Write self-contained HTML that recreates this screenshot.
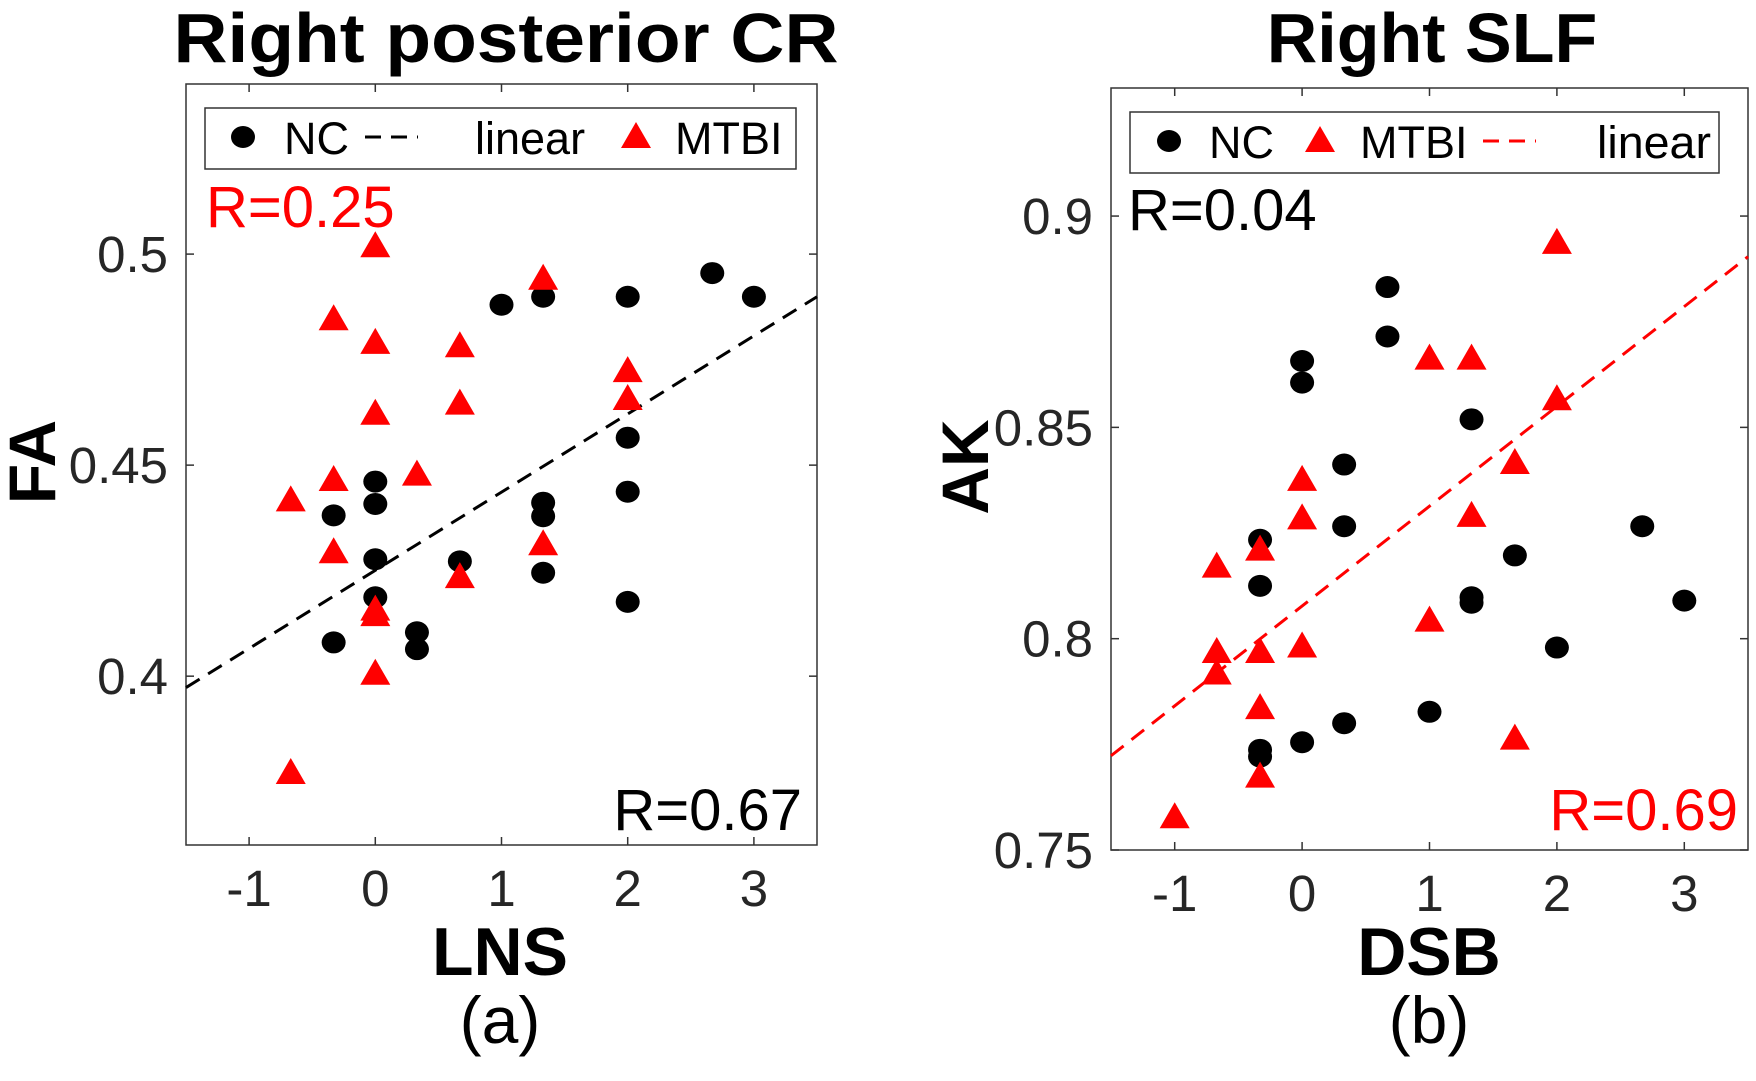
<!DOCTYPE html>
<html><head><meta charset="utf-8"><style>
html,body{margin:0;padding:0;background:#fff;}
svg{display:block;font-family:"Liberation Sans",Arial,sans-serif;}
</style></head><body>
<svg id="chart" width="1756" height="1081" viewBox="0 0 1756 1081" xmlns="http://www.w3.org/2000/svg">
<g id="root"></g>
<text x="506" y="62" font-size="70" font-weight="bold" text-anchor="middle" textLength="665" lengthAdjust="spacingAndGlyphs">Right posterior CR</text>
<text x="1432" y="62" font-size="70" font-weight="bold" text-anchor="middle">Right SLF</text>

<g>
<rect x="205" y="108" width="591" height="61" fill="#fff" stroke="#333" stroke-width="1.5"/>
<ellipse cx="243" cy="137" rx="12" ry="11" fill="#000"/>
<text x="284" y="154" font-size="45">NC</text>
<line x1="365" y1="137" x2="418" y2="137" stroke="#000" stroke-width="3" stroke-dasharray="16 10"/>
<text x="475" y="154" font-size="45">linear</text>
<polygon points="621,148 651,148 636,122" fill="#ff0000"/>
<text x="675" y="154" font-size="45">MTBI</text>
</g>
<g>
<rect x="1130" y="112" width="589" height="61" fill="#fff" stroke="#333" stroke-width="1.5"/>
<ellipse cx="1169" cy="141" rx="12" ry="11" fill="#000"/>
<text x="1209" y="158" font-size="45">NC</text>
<polygon points="1305,152 1335,152 1320,126" fill="#ff0000"/>
<text x="1360" y="158" font-size="45">MTBI</text>
<line x1="1483" y1="141" x2="1536" y2="141" stroke="#ff0000" stroke-width="3" stroke-dasharray="16 10"/>
<text x="1711" y="158" font-size="45" text-anchor="end" textLength="114" lengthAdjust="spacingAndGlyphs">linear</text>
</g>

<text x="206" y="227" font-size="58" fill="#ff0000">R=0.25</text>
<text x="802" y="830" font-size="58" fill="#000" text-anchor="end">R=0.67</text>
<text x="1128" y="230" font-size="58" fill="#000">R=0.04</text>
<text x="1738" y="830" font-size="58" fill="#ff0000" text-anchor="end">R=0.69</text>

<text transform="translate(55,462) rotate(-90)" font-size="66" font-weight="bold" text-anchor="middle">FA</text>
<text transform="translate(988,467) rotate(-90)" font-size="66" font-weight="bold" text-anchor="middle">AK</text>
<text x="500" y="975" font-size="68" font-weight="bold" text-anchor="middle">LNS</text>
<text x="1429" y="975" font-size="68" font-weight="bold" text-anchor="middle">DSB</text>
<text x="500" y="1043" font-size="66" text-anchor="middle">(a)</text>
<text x="1429" y="1043" font-size="66" text-anchor="middle">(b)</text>
</svg>
<script>
// Panel (a): Right posterior CR
const aNCx = [-0.33,-0.33,0,0,0,0,0.33,0.33,0.67,1,1.33,1.33,1.33,1.33,2,2,2,2,2.67,3];
const aNCy = [0.4381,0.408,0.4461,0.4408,0.4277,0.4187,0.4104,0.4064,0.4272,0.488,0.4899,0.4411,0.4379,0.4245,0.4899,0.4565,0.4437,0.4176,0.4955,0.4899];
const aMTx = [-0.67,-0.67,-0.33,-0.33,-0.33,0,0,0,0,0,0,0.33,0.67,0.67,0.67,1.33,1.33,2,2];
const aMTy = [0.4419,0.3773,0.4848,0.4467,0.4296,0.5021,0.4792,0.4624,0.416,0.4147,0.4008,0.448,0.4784,0.4648,0.4237,0.4944,0.4315,0.4725,0.4659];
const aLineX = [-1.5,3.5];
const aLineY = [0.3973,0.4899];
const aXTicks = [-1,0,1,2,3];
const aYTicks = [0.4,0.45,0.5];
const aYTickLabels = ["0.4","0.45","0.5"];
// Panel (b): Right SLF
const bNCx = [-0.33,-0.33,-0.33,-0.33,0,0,0,0.33,0.33,0.33,0.67,0.67,1,1.33,1.33,1.33,1.67,2,2.67,3];
const bNCy = [0.8234,0.8125,0.7737,0.7721,0.8657,0.8606,0.7755,0.8412,0.8266,0.78,0.8832,0.8715,0.7827,0.8519,0.8098,0.8085,0.8197,0.7979,0.8266,0.809];
const bMTx = [-1,-0.67,-0.67,-0.67,-0.33,-0.33,-0.33,-0.33,0,0,0,1,1,1.33,1.33,1.67,1.67,2,2];
const bMTy = [0.758,0.8173,0.7971,0.792,0.8213,0.7971,0.7838,0.7676,0.8378,0.8287,0.7984,0.8665,0.8045,0.8665,0.8293,0.8418,0.7766,0.8939,0.8569];
const bLineX = [-1.5,3.5];
const bLineY = [0.7723,0.8904];
const bXTicks = [-1,0,1,2,3];
const bYTicks = [0.75,0.8,0.85,0.9];
const bYTickLabels = ["0.75","0.8","0.85","0.9"];

const NS="http://www.w3.org/2000/svg";
const root=document.getElementById('root');
function mk(tag,attrs,parent){const e=document.createElementNS(NS,tag);for(const k in attrs)e.setAttribute(k,attrs[k]);(parent||root).appendChild(e);return e;}
function txt(s,attrs,parent){const e=mk('text',attrs,parent);e.textContent=s;return e;}

function panel(cfg){
  const g=mk('g',{});
  
  
  const sx=v=>cfg.x0+(v-cfg.xmin)/(cfg.xmax-cfg.xmin)*(cfg.x1-cfg.x0);
  const sy=v=>cfg.y1-(v-cfg.ymin)/(cfg.ymax-cfg.ymin)*(cfg.y1-cfg.y0);
  const box=mk('rect',{x:cfg.x0,y:cfg.y0,width:cfg.x1-cfg.x0,height:cfg.y1-cfg.y0,fill:'none',stroke:'#333','stroke-width':1.5},g);
  
  
  cfg.xt.forEach(v=>{
    const x=sx(v);
    mk('line',{x1:x,x2:x,y1:cfg.y1,y2:cfg.y1-8,stroke:'#333','stroke-width':1.5},g);
    mk('line',{x1:x,x2:x,y1:cfg.y0,y2:cfg.y0+8,stroke:'#333','stroke-width':1.5},g);
    const t=txt(String(v),{x:x,y:cfg.y1+61,'font-size':51,fill:'#262626','text-anchor':'middle'},g);
    
    
  });
  cfg.yt.forEach((v,i)=>{
    const y=sy(v);
    mk('line',{x1:cfg.x0,x2:cfg.x0+8,y1:y,y2:y,stroke:'#333','stroke-width':1.5},g);
    mk('line',{x1:cfg.x1,x2:cfg.x1-8,y1:y,y2:y,stroke:'#333','stroke-width':1.5},g);
    const t=txt(cfg.ytl[i],{x:cfg.x0-18,y:y+18,'font-size':51,fill:'#262626','text-anchor':'end'},g);
    
    
  });
  const ln=mk('line',{x1:sx(cfg.lx[0]),y1:sy(cfg.ly[0]),x2:sx(cfg.lx[1]),y2:sy(cfg.ly[1]),stroke:cfg.lineColor,'stroke-width':3,'stroke-dasharray':'16 10'},g);
  
  
  cfg.ncx.forEach((v,i)=>{
    const c=mk('ellipse',{cx:sx(v),cy:sy(cfg.ncy[i]),rx:12,ry:11,fill:'#000'},g);
    
    
  });
  cfg.mtx.forEach((v,i)=>{
    const x=sx(v),y=sy(cfg.mty[i]);
    const p=mk('polygon',{points:`${x-15},${y+12} ${x+15},${y+12} ${x},${y-14}`,fill:'#ff0000'},g);
    
    
  });
  return g;
}

panel({name:'panel-a',x0:186,x1:817,y0:84,y1:845,xmin:-1.5,xmax:3.5,ymin:0.36,ymax:0.5403,
  xt:aXTicks,yt:aYTicks,ytl:aYTickLabels,lx:aLineX,ly:aLineY,lineColor:'#000',ncx:aNCx,ncy:aNCy,mtx:aMTx,mty:aMTy});
panel({name:'panel-b',x0:1111,x1:1748,y0:88,y1:850,xmin:-1.5,xmax:3.5,ymin:0.75,ymax:0.9303,
  xt:bXTicks,yt:bYTicks,ytl:bYTickLabels,lx:bLineX,ly:bLineY,lineColor:'#ff0000',ncx:bNCx,ncy:bNCy,mtx:bMTx,mty:bMTy});
</script>
</body></html>
